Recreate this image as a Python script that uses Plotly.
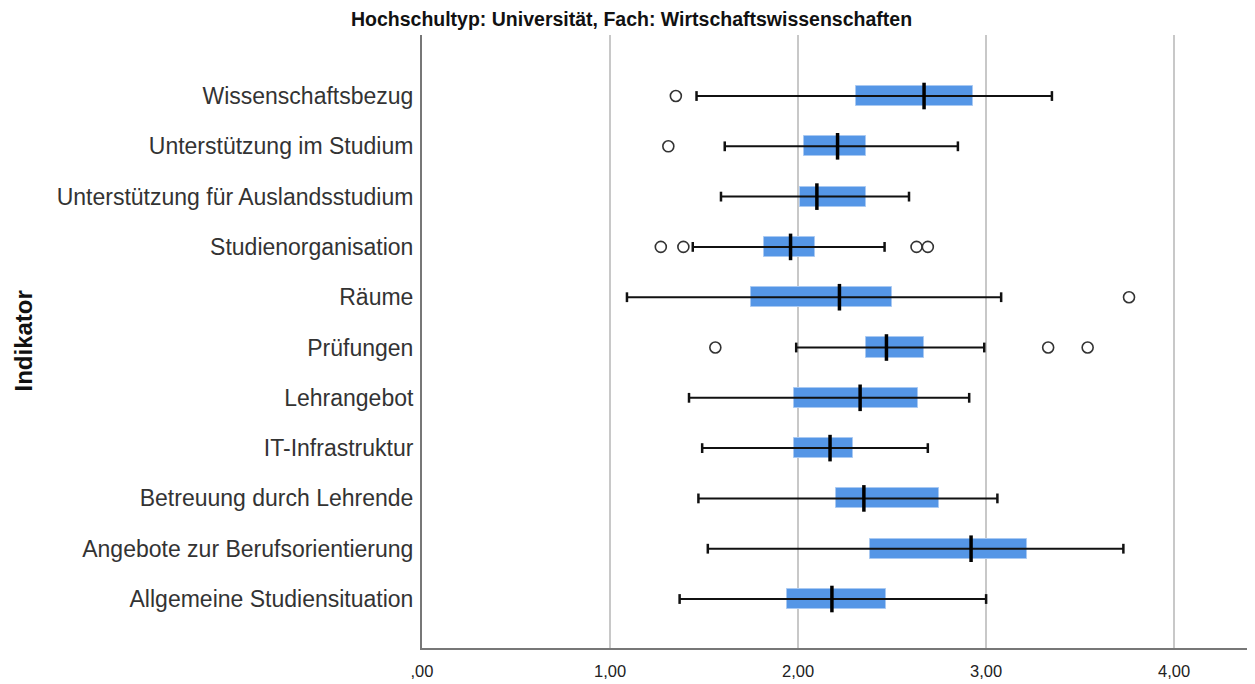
import plotly.graph_objects as go

categories = [
    "Allgemeine Studiensituation",
    "Angebote zur Berufsorientierung",
    "Betreuung durch Lehrende",
    "IT-Infrastruktur",
    "Lehrangebot",
    "Prüfungen",
    "Räume",
    "Studienorganisation",
    "Unterstützung für Auslandsstudium",
    "Unterstützung im Studium",
    "Wissenschaftsbezug",
]
whisker_low = [1.37, 1.52, 1.47, 1.49, 1.42, 1.99, 1.09, 1.44, 1.59, 1.61, 1.46]
q1 =          [1.94, 2.38, 2.20, 1.98, 1.98, 2.36, 1.75, 1.82, 2.01, 2.03, 2.31]
median =      [2.18, 2.92, 2.35, 2.17, 2.33, 2.47, 2.22, 1.96, 2.10, 2.21, 2.67]
q3 =          [2.47, 3.22, 2.75, 2.29, 2.64, 2.67, 2.50, 2.09, 2.36, 2.36, 2.93]
whisker_high = [3.00, 3.73, 3.06, 2.69, 2.91, 2.99, 3.08, 2.46, 2.59, 2.85, 3.35]
outliers = {
    "Wissenschaftsbezug": [1.35],
    "Unterstützung im Studium": [1.31],
    "Studienorganisation": [1.27, 1.39, 2.63, 2.69],
    "Räume": [3.76],
    "Prüfungen": [1.56, 3.33, 3.54],
}
x_ticks = [0, 1, 2, 3, 4]
x_tick_labels = [",00", "1,00", "2,00", "3,00", "4,00"]

title_text = "Hochschultyp: Universität, Fach: Wirtschaftswissenschaften"
y_title = "Indikator"

idx = list(range(len(categories)))
box_color = "#5596E6"

FIG_W, FIG_H = 1247, 676
M_L, M_R, M_T, M_B = 414, 0, 27, 36
plot_w = FIG_W - M_L - M_R

fig = go.Figure()

# whiskers
wx, wy = [], []
for i in idx:
    wx += [whisker_low[i], whisker_high[i], None]
    wy += [i, i, None]
fig.add_trace(go.Scatter(x=wx, y=wy, mode="lines",
                         line=dict(color="#111111", width=2),
                         hoverinfo="skip", showlegend=False))
# caps
fig.add_trace(go.Scatter(x=whisker_low + whisker_high, y=idx + idx, mode="markers",
                         marker=dict(symbol="line-ns", size=7, color="#111111",
                                     line=dict(color="#111111", width=2.5)),
                         hoverinfo="skip", showlegend=False))
# boxes
fig.add_trace(go.Bar(y=idx, x=[q3[i] - q1[i] for i in idx], base=q1,
                     orientation="h", width=0.4,
                     marker=dict(color=box_color,
                                 line=dict(color="#A9C9F2", width=1)),
                     showlegend=False))
# medians
fig.add_trace(go.Scatter(x=median, y=idx, mode="markers",
                         marker=dict(symbol="line-ns", size=19, color="#000000",
                                     line=dict(color="#000000", width=3.5)),
                         showlegend=False))
# outliers
ox, oy = [], []
for name, vals in outliers.items():
    k = categories.index(name)
    for v in vals:
        ox.append(v)
        oy.append(k)
fig.add_trace(go.Scatter(x=ox, y=oy, mode="markers",
                         marker=dict(symbol="circle-open", size=11, color="#333333",
                                     line=dict(color="#333333", width=1.6)),
                         showlegend=False))

fig.update_layout(
    width=FIG_W, height=FIG_H,
    margin=dict(l=M_L, r=M_R, t=M_T, b=M_B, autoexpand=False),
    paper_bgcolor="white", plot_bgcolor="white",
    font=dict(family="Liberation Sans, Arial, sans-serif", color="#222222"),
    title=dict(text=f"<b>{title_text}</b>", x=0.5, xref="container", xanchor="center",
               y=1 - 11 / FIG_H, yanchor="middle",
               font=dict(family="Liberation Sans Narrow, Liberation Sans, Arial", size=19.5,
                         color="#111111")),
    bargap=0,
    showlegend=False,
)
fig.update_xaxes(
    range=[0, 4.43],
    tickvals=x_ticks, ticktext=x_tick_labels,
    tickfont=dict(family="Liberation Sans, Arial", size=16.5, color="#222222"),
    showgrid=True, gridcolor="#C8C8C8", gridwidth=2,
    zeroline=False,
    showline=True, linecolor="#777777", linewidth=2,
    ticks="", ticklabelstandoff=7,
)
fig.update_yaxes(
    range=[-0.974, 11.213],
    tickvals=idx, ticktext=categories,
    tickfont=dict(size=23, color="#333333"),
    showgrid=False, zeroline=False,
    showline=True, linecolor="#777777", linewidth=2,
    ticks="", ticklabelstandoff=2,
)
fig.add_annotation(text=f"<b>{y_title}</b>", xref="paper", yref="paper",
                   x=(15 - M_L) / plot_w, y=0.5, xanchor="center", yanchor="middle",
                   textangle=-90, showarrow=False,
                   font=dict(size=24, color="#111111", family="Liberation Sans, Arial"))
fig.write_html("out.html")
